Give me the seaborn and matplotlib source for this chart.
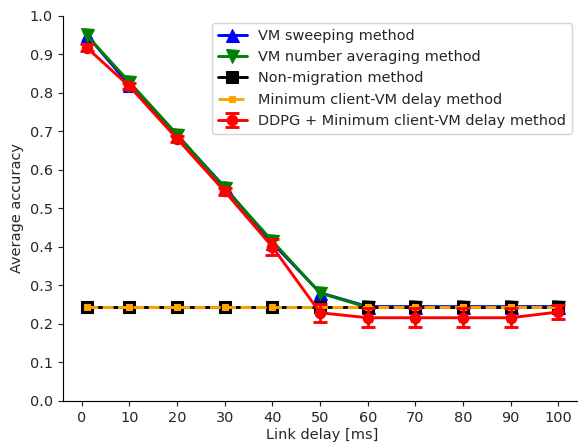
import matplotlib
matplotlib.use("Agg")
import matplotlib.pyplot as plt
import seaborn as sns
import pandas as pd

delays = [1, 10, 20, 30, 40, 50, 60, 70, 80, 90, 100]
vm_sweeping = [0.951, 0.820, 0.690, 0.555, 0.410, 0.281, 0.245, 0.245, 0.245, 0.245, 0.245]
vm_averaging = [0.950, 0.828, 0.692, 0.552, 0.415, 0.280, 0.243, 0.243, 0.243, 0.243, 0.243]
non_migration = [0.243, 0.243, 0.243, 0.243, 0.243, 0.243, 0.243, 0.243, 0.243, 0.243, 0.243]
min_delay = [0.243, 0.243, 0.243, 0.243, 0.243, 0.243, 0.243, 0.243, 0.243, 0.243, 0.243]
ddpg = [0.918, 0.817, 0.681, 0.544, 0.400, 0.229, 0.216, 0.216, 0.216, 0.216, 0.231]
ddpg_err = [0.008, 0.008, 0.008, 0.008, 0.020, 0.023, 0.025, 0.025, 0.025, 0.025, 0.017]
x_ticks = [0, 10, 20, 30, 40, 50, 60, 70, 80, 90, 100]
y_ticks = [0.0, 0.1, 0.2, 0.3, 0.4, 0.5, 0.6, 0.7, 0.8, 0.9, 1.0]

sns.set_theme(style="ticks")
plt.rcParams.update({
    "font.family": ["DejaVu Sans"],
    "font.size": 10,
    "axes.labelsize": 10,
    "xtick.labelsize": 10,
    "ytick.labelsize": 10,
    "legend.fontsize": 10,
    "axes.linewidth": 0.8,
    "xtick.major.width": 0.8,
    "ytick.major.width": 0.8,
    "xtick.major.size": 3.5,
    "ytick.major.size": 3.5,
    "axes.edgecolor": "black",
})

DPI = 104
fig = plt.figure(figsize=(578 / DPI, 443 / DPI), dpi=DPI)
ax = fig.add_axes([0.109, 0.095, 0.898, 0.869])

df = pd.DataFrame({"delay": delays, "sweep": vm_sweeping, "avg": vm_averaging,
                   "nonmig": non_migration, "mindelay": min_delay, "ddpg": ddpg})

sns.lineplot(data=df, x="delay", y="sweep", ax=ax, color="blue", marker="^",
             markersize=9, linewidth=2, markeredgecolor="blue", label="VM sweeping method")
sns.lineplot(data=df, x="delay", y="avg", ax=ax, color="green", marker="v",
             markersize=9, linewidth=2, markeredgecolor="green", label="VM number averaging method")
sns.lineplot(data=df, x="delay", y="nonmig", ax=ax, color="black", marker="s",
             markersize=8, linewidth=2, markeredgecolor="black", label="Non-migration method")
sns.lineplot(data=df, x="delay", y="mindelay", ax=ax, color="orange", marker="s",
             markersize=4, linewidth=2, linestyle="--", markeredgecolor="orange",
             label="Minimum client-VM delay method")
ax.errorbar(delays, ddpg, yerr=ddpg_err, color="red", marker="o", markersize=7,
            linewidth=2, capsize=5, capthick=2, elinewidth=2,
            label="DDPG + Minimum client-VM delay method")

ax.set_xlim(-3.95, 104.95)
ax.set_ylim(0, 1.0)
ax.set_xticks(x_ticks)
ax.set_yticks(y_ticks)
ax.set_xlabel("Link delay [ms]", labelpad=2)
ax.set_ylabel("Average accuracy")
sns.despine(ax=ax)
ax.legend(loc="upper right", bbox_to_anchor=(0.995, 1.0), handlelength=2.0, borderaxespad=0.5)

fig.savefig("out.png", dpi=DPI)
